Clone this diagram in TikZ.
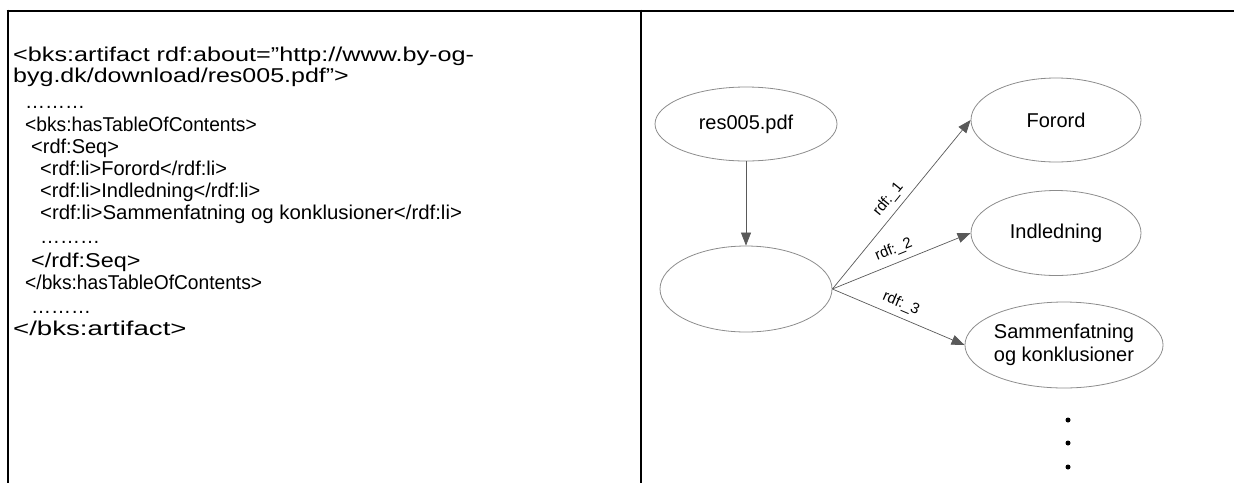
\documentclass[tikz,border=0pt]{standalone}
\usepackage{fontspec}
\usepackage{graphicx}
\setmainfont{Liberation Sans}
\usetikzlibrary{shapes.geometric,arrows.meta}
% horizontally widened listing line
\newcommand\widerow[2]{\scalebox{#1}[1]{#2}}
\begin{document}
\begin{tikzpicture}[x=1pt,y=-1pt,
  frame/.style={line width=2pt,black},
  code/.style={anchor=base west,inner sep=0pt,font=\fontsize{20}{22}\selectfont},
  res/.style={ellipse,draw=black!45,line width=0.8pt,inner sep=0pt,
    font=\fontsize{20}{22.5}\selectfont,align=center},
  link/.style={draw=black!65,line width=0.7pt,-{Triangle[length=13pt,width=10pt]}},
  lbl/.style={sloped,above=5pt,pos=0.48,inner sep=1pt,font=\fontsize{15}{15}\selectfont},
  dot/.style={circle,fill=black,inner sep=0pt,minimum size=5pt}]
\useasboundingbox (0,0) rectangle (1234,483);
% table rules
\draw[frame] (6.5,10.5) -- (1234,10.5);
\draw[frame] (7.5,9.5) -- (7.5,483);
\draw[frame] (641,9.5) -- (641,483);
% RDF/XML listing
\node[code] (l1)  at (13,61)  {\widerow{1.26}{<bks:artifact rdf:about="http://www.by-og-}};
\node[code] (l2)  at (13,82)  {\widerow{1.25}{byg.dk/download/res005.pdf">}};
\node[code] (l3)  at (25,108) {………};
\node[code] (l4)  at (25,131) {\widerow{0.96}{<bks:hasTableOfContents>}};
\node[code] (l5)  at (31,153) {<rdf:Seq>};
\node[code] (l6)  at (40,175) {<rdf:li>Forord</rdf:li>};
\node[code] (l7)  at (40,197) {<rdf:li>Indledning</rdf:li>};
\node[code] (l8)  at (40,219) {\widerow{1.02}{<rdf:li>Sammenfatning og konklusioner</rdf:li>}};
\node[code] (l9)  at (40,243) {………};
\node[code] (l10) at (31,267) {\widerow{1.17}{</rdf:Seq>}};
\node[code] (l11) at (25,289) {\widerow{0.96}{</bks:hasTableOfContents>}};
\node[code] (l12) at (31,313) {………};
\node[code] (l13) at (13,335) {\widerow{1.38}{</bks:artifact>}};
% RDF graph
\node[res,minimum width=182pt,minimum height=74pt] (doc) at (746,124) {res005.pdf};
\node[res,minimum width=172pt,minimum height=86pt] (seq) at (746,289) {};
\node[res,minimum width=170pt,minimum height=84pt] (f1) at (1056,120) {Forord};
\node[res,minimum width=170pt,minimum height=85pt] (f2) at (1056,233) {Indledning};
\node[res,minimum width=186pt,minimum height=86pt] (f3) at (1064,345) {Sammenfatning\\og konklusioner};
\draw[link] (doc.south) -- (seq.north);
\draw[link] (seq.east) -- node[lbl] {rdf:\_1} (f1.west);
\draw[link] (seq.east) -- node[lbl] {rdf:\_2} (f2.west);
\draw[link] (seq.east) -- node[lbl] {rdf:\_3} (f3.west);
\node[dot] (d1) at (1068,420) {};
\node[dot] (d2) at (1068,443) {};
\node[dot] (d3) at (1068,467) {};
\end{tikzpicture}
\end{document}
